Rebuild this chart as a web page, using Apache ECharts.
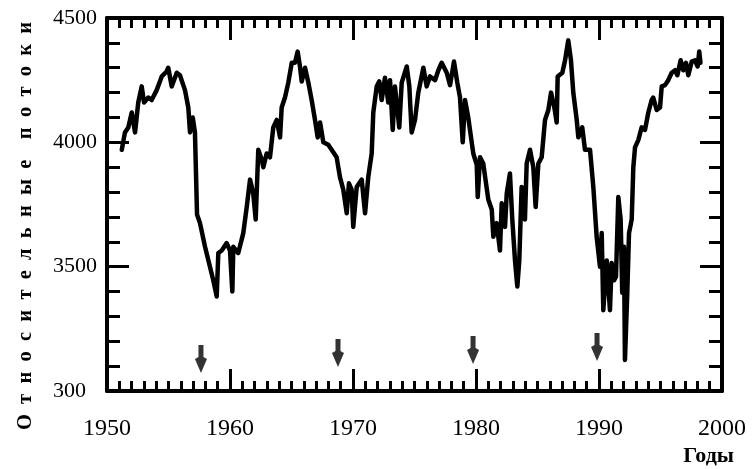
<!DOCTYPE html>
<html>
<head>
<meta charset="utf-8">
<script src="https://cdn.jsdelivr.net/npm/echarts@6/dist/echarts.min.js"></script>
<style>
html,body{margin:0;padding:0;background:#fff;}
#chart{width:752px;height:469px;}
</style>
</head>
<body>
<div id="chart"></div>
<script>
var years = [
1951.20,1951.46,1951.73,1952.01,1952.28,1952.54,1952.82,1953.01,1953.36,1953.63,
1954.04,1954.45,1954.85,1954.98,1955.26,1955.67,1955.93,1956.34,1956.61,1956.75,
1956.97,1957.15,1957.32,1957.56,1957.97,1958.37,1958.64,1958.92,1959.05,1959.33,
1959.73,1960.00,1960.19,1960.27,1960.67,1961.08,1961.36,1961.63,1961.89,1962.09,
1962.30,1962.58,1962.71,1962.98,1963.25,1963.52,1963.80,1964.07,1964.20,1964.47,
1964.74,1965.02,1965.28,1965.50,1965.69,1965.83,1966.10,1966.37,1966.64,1966.91,
1967.13,1967.32,1967.59,1967.99,1968.40,1968.67,1968.94,1969.21,1969.49,1969.67,
1969.89,1970.02,1970.30,1970.71,1970.98,1971.24,1971.52,1971.65,1971.93,1972.14,
1972.33,1972.60,1972.87,1973.01,1973.23,1973.41,1973.76,1973.96,1974.37,1974.58,
1974.77,1975.04,1975.31,1975.72,1975.99,1976.26,1976.67,1976.94,1977.21,1977.62,
1977.89,1978.21,1978.48,1978.70,1978.92,1979.11,1979.37,1979.78,1980.06,1980.14,
1980.33,1980.59,1981.00,1981.28,1981.41,1981.68,1981.95,1982.09,1982.36,1982.50,
1982.76,1982.95,1983.17,1983.36,1983.52,1983.71,1983.98,1984.12,1984.39,1984.66,
1984.85,1985.07,1985.34,1985.61,1985.88,1986.10,1986.37,1986.56,1986.64,1987.02,
1987.24,1987.50,1987.72,1987.91,1988.19,1988.32,1988.64,1988.86,1989.27,1989.54,
1989.81,1990.08,1990.22,1990.35,1990.63,1990.89,1991.03,1991.22,1991.38,1991.57,
1991.76,1991.89,1992.03,1992.11,1992.30,1992.44,1992.66,1992.79,1992.93,1993.20,
1993.47,1993.74,1994.01,1994.28,1994.41,1994.69,1994.96,1995.10,1995.37,1995.63,
1995.91,1996.18,1996.37,1996.64,1996.85,1997.07,1997.26,1997.54,1997.80,1998.02,
1998.15,1998.25
];
var fluxValues = [
3970,4040,4060,4120,4040,4160,4225,4160,4180,4170,
4210,4265,4285,4300,4225,4280,4270,4210,4140,4040,
4100,4040,3710,3675,3580,3500,3445,3380,3555,3565,
3595,3565,3400,3580,3555,3635,3740,3850,3795,3690,
3970,3930,3900,3955,3940,4060,4090,4020,4140,4180,
4240,4320,4320,4365,4305,4245,4300,4240,4170,4090,
4020,4080,4000,3990,3960,3940,3860,3810,3715,3835,
3810,3660,3820,3850,3715,3860,3955,4120,4225,4245,
4170,4260,4160,4250,4050,4225,4060,4240,4305,4225,
4040,4090,4200,4300,4225,4265,4250,4290,4320,4280,
4230,4325,4240,4180,4000,4170,4100,3955,3910,3780,
3940,3915,3770,3730,3620,3675,3565,3755,3660,3795,
3875,3690,3525,3420,3525,3820,3690,3915,3970,3900,
3740,3915,3940,4090,4130,4200,4140,4080,4265,4280,
4330,4410,4330,4200,4090,4020,4060,3970,3970,3820,
3620,3500,3635,3325,3525,3325,3515,3445,3460,3780,
3690,3395,3580,3125,3395,3635,3690,3900,3980,4010,
4060,4050,4120,4170,4180,4130,4140,4225,4230,4250,
4280,4290,4270,4330,4290,4320,4270,4325,4330,4305,
4365,4320
];
var arrowYears = [1957.64, 1968.78, 1979.76, 1989.84];
var arrowLevels = [3129, 3153, 3165, 3177];
var yTickValues = [3000, 3500, 4000, 4500];
var yTickLabels = ['300', '3500', '4000', '4500'];
var xTickValues = [1950, 1960, 1970, 1980, 1990, 2000];
var xTickLabels = ['1950', '1960', '1970', '1980', '1990', '2000'];
var yAxisTitle = 'О  т  н  о  с  и  т  е  л  ь  н  ы  е    п  о  т  о  к  и';
var xAxisTitle = 'Годы';

var lineData = years.map(function (y, i) { return [y, fluxValues[i]]; });
var arrowData = arrowYears.map(function (y, i) { return [y, arrowLevels[i]]; });

var serif = '"Liberation Serif", "DejaVu Serif", serif';
function fx(v) { var i = xTickValues.indexOf(v); return i >= 0 ? xTickLabels[i] : ''; }
function fy(v) { var i = yTickValues.indexOf(v); return i >= 0 ? yTickLabels[i] : ''; }

var chart = echarts.init(document.getElementById('chart'), null, { renderer: 'canvas' });
chart.setOption({
  animation: false,
  backgroundColor: '#fff',
  grid: { left: 107, right: 30, top: 18, bottom: 78, containLabel: false },
  xAxis: [
    { type: 'value', position: 'bottom', min: 1950, max: 2000, interval: 10, z: 10,
      axisLine: { show: true, onZero: false, lineStyle: { color: '#000', width: 4 } },
      axisTick: { show: true, inside: true, length: 22, lineStyle: { color: '#000', width: 3 } },
      splitLine: { show: false },
      axisLabel: { show: true, color: '#000', fontFamily: serif, fontSize: 24, margin: 26, formatter: fx } },
    { type: 'value', position: 'top', min: 1950, max: 2000, interval: 10, z: 10,
      axisLine: { show: true, onZero: false, lineStyle: { color: '#000', width: 4 } },
      axisTick: { show: true, inside: true, length: 22, lineStyle: { color: '#000', width: 3 } },
      splitLine: { show: false },
      axisLabel: { show: false } },
    { type: 'value', position: 'bottom', min: 1950, max: 2000, interval: 1, z: 10,
      axisLine: { show: false },
      axisTick: { show: true, inside: true, length: 10, lineStyle: { color: '#000', width: 3 } },
      splitLine: { show: false },
      axisLabel: { show: false } },
    { type: 'value', position: 'top', min: 1950, max: 2000, interval: 1, z: 10,
      axisLine: { show: false },
      axisTick: { show: true, inside: true, length: 10, lineStyle: { color: '#000', width: 3 } },
      splitLine: { show: false },
      axisLabel: { show: false } }
  ],
  yAxis: [
    { type: 'value', position: 'left', min: 3000, max: 4500, interval: 500, z: 10,
      axisLine: { show: true, onZero: false, lineStyle: { color: '#000', width: 4 } },
      axisTick: { show: true, inside: true, length: 22, lineStyle: { color: '#000', width: 3 } },
      splitLine: { show: false },
      axisLabel: { show: true, color: '#000', fontFamily: serif, fontSize: 22, margin: 54, align: 'left', formatter: fy } },
    { type: 'value', position: 'right', min: 3000, max: 4500, interval: 500, z: 10,
      axisLine: { show: true, onZero: false, lineStyle: { color: '#000', width: 4 } },
      axisTick: { show: true, inside: true, length: 22, lineStyle: { color: '#000', width: 3 } },
      splitLine: { show: false },
      axisLabel: { show: false } },
    { type: 'value', position: 'left', min: 3000, max: 4500, interval: 100, z: 10,
      axisLine: { show: false },
      axisTick: { show: true, inside: true, length: 13, lineStyle: { color: '#000', width: 3 } },
      splitLine: { show: false },
      axisLabel: { show: false } },
    { type: 'value', position: 'right', min: 3000, max: 4500, interval: 100, z: 10,
      axisLine: { show: false },
      axisTick: { show: true, inside: true, length: 13, lineStyle: { color: '#000', width: 3 } },
      splitLine: { show: false },
      axisLabel: { show: false } }
  ],
  series: [
    { type: 'line', data: lineData, xAxisIndex: 0, yAxisIndex: 0, showSymbol: false,
      lineStyle: { color: '#000', width: 4.5, join: 'round', cap: 'round' } },
    { type: 'scatter', data: arrowData, xAxisIndex: 0, yAxisIndex: 0,
      symbol: 'path://M3.5,0L8.5,0L8.5,12L12,14L6,28L0,14L3.5,12Z', symbolSize: [12, 28],
      itemStyle: { color: '#000' } }
  ],
  graphic: [
    { type: 'text', x: 26, y: 226, rotation: Math.PI / 2,
      style: { text: yAxisTitle, fill: '#000', font: 'bold 20.5px ' + serif, align: 'center', verticalAlign: 'middle' } },
    { type: 'text', x: 734, y: 456,
      style: { text: xAxisTitle, fill: '#000', font: 'bold 22px ' + serif, align: 'right', verticalAlign: 'middle' } }
  ]
});
chart.getZr().refreshImmediately();
</script>
</body>
</html>
